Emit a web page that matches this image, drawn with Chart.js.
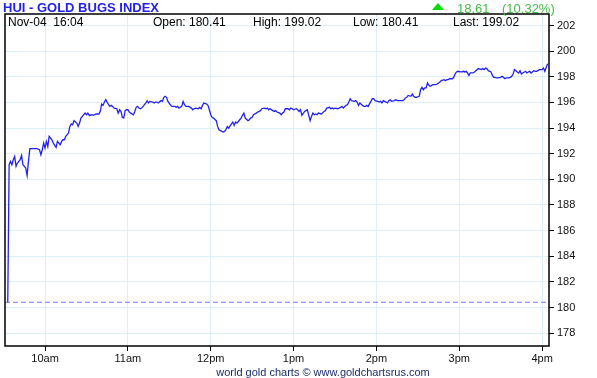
<!DOCTYPE html>
<html>
<head>
<meta charset="utf-8">
<script src="https://cdn.jsdelivr.net/npm/chart.js@4/dist/chart.umd.min.js"></script>
<style>
  body { margin: 0; background: #fff; }
</style>
</head>
<body>
<canvas id="huichart" width="597" height="378"></canvas>
<script>
// Data block
const times = [
  '09:33','09:34','09:35','09:36','09:37','09:38','09:39','09:40','09:42','09:43','09:44','09:45','09:46','09:47','09:48','09:49',
  '09:51','09:54','09:56','09:57','09:58','09:59','10:00','10:01','10:02','10:03','10:05','10:06','10:07','10:08','10:09','10:11',
  '10:12','10:13','10:14','10:15','10:17','10:18','10:19','10:20','10:21','10:23','10:24','10:25','10:26','10:27','10:29','10:30',
  '10:31','10:32','10:34','10:35','10:37','10:39','10:40','10:41','10:42','10:43','10:44','10:46','10:47','10:48','10:49','10:50',
  '10:52','10:53','10:54','10:55','10:56','10:57','10:58','10:59','11:00','11:01','11:02','11:04','11:05','11:06','11:07','11:08',
  '11:09','11:10','11:11','11:13','11:14','11:15','11:16','11:18','11:19','11:20','11:21','11:22','11:24','11:25','11:26','11:27',
  '11:28','11:29','11:31','11:32','11:34','11:35','11:36','11:37','11:39','11:40','11:41','11:42','11:44','11:46','11:47','11:48',
  '11:49','11:51','11:52','11:53','11:54','11:55','11:57','11:58','11:59','12:00','12:01','12:02','12:04','12:05','12:06','12:07',
  '12:09','12:10','12:11','12:12','12:13','12:15','12:16','12:17','12:18','12:19','12:21','12:22','12:23','12:24','12:25','12:27',
  '12:28','12:29','12:30','12:31','12:33','12:34','12:35','12:36','12:37','12:39','12:40','12:41','12:42','12:43','12:45','12:46',
  '12:47','12:48','12:50','12:51','12:52','12:53','12:54','12:56','12:57','12:58','12:59','13:00','13:02','13:03','13:04','13:05',
  '13:06','13:08','13:09','13:10','13:11','13:12','13:13','13:14','13:15','13:16','13:17','13:18','13:20','13:21','13:22','13:23',
  '13:24','13:26','13:27','13:28','13:29','13:30','13:32','13:33','13:34','13:35','13:36','13:38','13:39','13:40','13:41','13:42',
  '13:44','13:45','13:46','13:47','13:48','13:50','13:51','13:52','13:53','13:54','13:56','13:57','13:58','13:59','14:01','14:02',
  '14:03','14:04','14:05','14:07','14:08','14:09','14:10','14:11','14:13','14:14','14:15','14:16','14:17','14:19','14:20','14:21',
  '14:22','14:23','14:25','14:26','14:27','14:28','14:29','14:31','14:32','14:33','14:34','14:35','14:36','14:37','14:38','14:39',
  '14:40','14:41','14:43','14:44','14:45','14:46','14:47','14:49','14:50','14:51','14:52','14:53','14:55','14:56','14:57','14:58',
  '14:59','15:01','15:02','15:03','15:04','15:05','15:06','15:07','15:08','15:10','15:11','15:12','15:13','15:14','15:16','15:17',
  '15:18','15:19','15:20','15:21','15:23','15:24','15:25','15:26','15:27','15:28','15:30','15:31','15:32','15:33','15:34','15:36',
  '15:37','15:38','15:39','15:40','15:41','15:42','15:43','15:44','15:45','15:46','15:48','15:49','15:50','15:51','15:52','15:54',
  '15:55','15:56','15:57','15:58','16:00','16:01','16:02','16:03','16:04'
];
const prices = [
  180.41,191.14,191.40,191.14,191.53,191.79,191.01,191.27,191.53,191.87,191.14,191.01,190.88,190.31,191.40,192.39,
  192.39,192.39,192.31,191.92,192.31,192.83,192.44,192.96,192.57,193.35,193.09,192.83,192.65,192.49,192.96,192.70,
  192.96,193.09,193.09,193.35,193.61,194.13,194.32,194.26,194.58,194.39,194.13,194.39,194.78,194.91,195.17,195.04,
  195.17,194.99,195.04,194.99,195.10,195.10,195.30,195.88,195.77,196.03,196.22,195.82,195.69,195.77,195.69,195.56,
  195.51,195.17,195.43,195.30,194.84,194.78,195.36,195.43,195.43,195.25,195.17,195.04,195.30,195.62,195.69,195.56,
  195.51,195.56,195.69,195.96,196.14,195.96,196.08,196.03,195.96,196.03,196.03,195.96,196.14,196.08,196.40,196.48,
  196.40,196.08,195.77,195.69,195.69,195.62,195.69,195.56,195.69,196.08,195.82,195.69,195.69,195.56,195.43,195.51,
  195.56,195.51,195.62,195.51,195.77,195.95,195.88,195.77,195.43,195.04,194.84,194.78,194.58,194.13,193.87,193.80,
  193.69,193.74,193.87,194.13,194.00,194.32,194.47,194.21,194.47,194.39,194.65,194.78,194.99,195.17,194.78,194.58,
  194.65,194.78,194.84,195.04,195.17,195.25,195.30,195.36,195.51,195.56,195.51,195.56,195.43,195.51,195.36,195.30,
  195.36,195.25,195.17,195.04,195.17,195.25,195.51,195.51,195.43,195.56,195.51,195.43,195.51,195.43,195.30,195.43,
  194.99,195.30,195.36,195.43,194.99,194.58,194.91,195.17,195.04,195.10,195.04,195.17,195.10,195.17,195.30,195.36,
  195.56,195.62,195.51,195.56,195.51,195.56,195.51,195.56,195.62,195.69,195.56,195.77,195.82,196.03,196.29,196.14,
  196.08,196.14,196.03,195.77,195.95,195.77,195.69,195.69,195.77,195.69,196.08,196.29,196.29,196.14,196.09,196.03,
  196.09,195.96,196.14,196.03,195.96,196.14,196.21,196.09,196.14,196.21,196.14,196.14,196.14,196.14,196.21,196.35,
  196.40,196.55,196.48,196.66,196.48,196.40,196.40,196.48,196.99,197.18,196.99,197.13,197.13,197.52,197.33,197.26,
  197.33,197.39,197.39,197.44,197.52,197.59,197.70,197.78,197.70,197.78,197.78,197.85,197.85,197.96,198.22,198.38,
  198.43,198.38,198.38,198.43,198.38,198.43,198.30,198.11,198.30,198.30,198.38,198.48,198.56,198.64,198.56,198.64,
  198.56,198.69,198.64,198.48,198.38,198.11,197.96,197.96,197.91,197.91,197.96,198.04,197.96,197.85,197.91,197.91,
  197.96,198.04,198.22,198.56,198.48,198.38,198.30,198.48,198.22,198.30,198.43,198.30,198.38,198.43,198.30,198.48,
  198.43,198.43,198.48,198.56,198.56,198.69,198.43,198.74,199.02
];
const hourTicks = [600, 660, 720, 780, 840, 900, 960];
const hourLabels = ['10am', '11am', '12pm', '1pm', '2pm', '3pm', '4pm'];
const priceTicks = [178, 180, 182, 184, 186, 188, 190, 192, 194, 196, 198, 200, 202];

const indexName = 'HUI - GOLD BUGS INDEX';
const quoteDate = 'Nov-04';
const quoteTime = '16:04';
const openPrice = 180.41;
const highPrice = 199.02;
const lowPrice = 180.41;
const lastPrice = 199.02;
const changeAbs = 18.61;
const changePct = 10.32;

const FONT = 'Arial, "Liberation Sans", sans-serif';
const xMin = 571, xMax = 965;

// "HH:MM" -> minutes since midnight
const toMinutes = t => { const p = t.split(':'); return +p[0] * 60 + +p[1]; };
const pricePoints = times.map((t, i) => ({ x: toMinutes(t), y: prices[i] }));

// Header / footer / frame plugin
const huiDecorations = {
    id: 'huiDecorations',
    afterDraw(chart) {
        const ctx = chart.ctx;
        const a = chart.chartArea;
        ctx.save();
        // frame
        ctx.strokeStyle = '#000';
        ctx.lineWidth = 1.5;
        ctx.strokeRect(a.left, a.top, a.right - a.left, a.bottom - a.top);

        // title
        ctx.textBaseline = 'alphabetic';
        ctx.textAlign = 'left';
        ctx.fillStyle = '#2222ee';
        ctx.font = 'bold 13px ' + FONT;
        ctx.fillText(indexName, 3, 12);

        // change
        ctx.fillStyle = '#00dd00';
        ctx.beginPath();
        ctx.moveTo(432, 10);
        ctx.lineTo(444, 10);
        ctx.lineTo(438, 3);
        ctx.closePath();
        ctx.fill();
        ctx.fillStyle = '#44bb44';
        ctx.font = '13px ' + FONT;
        ctx.fillText(changeAbs.toFixed(2), 457, 13);
        ctx.fillText('(' + changePct.toFixed(2) + '%)', 502, 13);

        // info row
        ctx.fillStyle = '#000';
        ctx.font = '12px ' + FONT;
        ctx.fillText(quoteDate + '  ' + quoteTime, 8, 26);
        ctx.fillText('Open: ' + openPrice.toFixed(2), 153, 26);
        ctx.fillText('High: ' + highPrice.toFixed(2), 253, 26);
        ctx.fillText('Low: ' + lowPrice.toFixed(2), 353, 26);
        ctx.fillText('Last: ' + lastPrice.toFixed(2), 453, 26);

        // footer
        ctx.textAlign = 'center';
        ctx.fillStyle = '#1c2c6c';
        ctx.font = '11px ' + FONT;
        ctx.fillText('world gold charts \u00a9 www.goldchartsrus.com', 323, 376);
        ctx.restore();
    }
};

const huiConfig = {
    type: 'line',
    data: {
        datasets: [{
            label: 'HUI',
            data: pricePoints,
            borderColor: '#2222ee',
            borderWidth: 1.3,
            pointRadius: 0,
            tension: 0
        }, {
            label: 'Open',
            data: [{ x: xMin, y: openPrice }, { x: xMax, y: openPrice }],
            borderColor: '#7a7aea',
            borderWidth: 1,
            borderDash: [5, 3],
            pointRadius: 0
        }]
    },
    options: {
        responsive: false,
        animation: false,
        layout: { padding: { left: 5, top: 14, right: 0, bottom: 0 } },
        plugins: {
            legend: { display: false },
            tooltip: { enabled: false }
        },
        scales: {
            x: {
                type: 'linear',
                min: xMin,
                max: xMax,
                afterBuildTicks: s => { s.ticks = hourTicks.map(v => ({ value: v })); },
                afterFit: s => { s.height = 32; },
                grid: { color: '#dcf0f6', tickColor: '#000', tickLength: 5, lineWidth: 1 },
                border: { display: false },
                ticks: {
                    padding: 1,
                    color: '#111',
                    font: { family: FONT, size: 11 },
                    maxRotation: 0,
                    callback: v => hourLabels[hourTicks.indexOf(v)]
                }
            },
            y: {
                position: 'right',
                min: 177,
                max: 202.9,
                afterBuildTicks: s => { s.ticks = priceTicks.map(v => ({ value: v })); },
                afterFit: s => { s.width = 48; },
                grid: { color: '#dcf0f6', tickColor: '#000', tickLength: 5, lineWidth: 1 },
                border: { display: false },
                ticks: {
                    padding: 3,
                    color: '#111',
                    font: { family: FONT, size: 11 }
                }
            }
        }
    },
    plugins: [huiDecorations]
};

const huiChart = new Chart(document.getElementById('huichart'), huiConfig);
</script>
</body>
</html>
